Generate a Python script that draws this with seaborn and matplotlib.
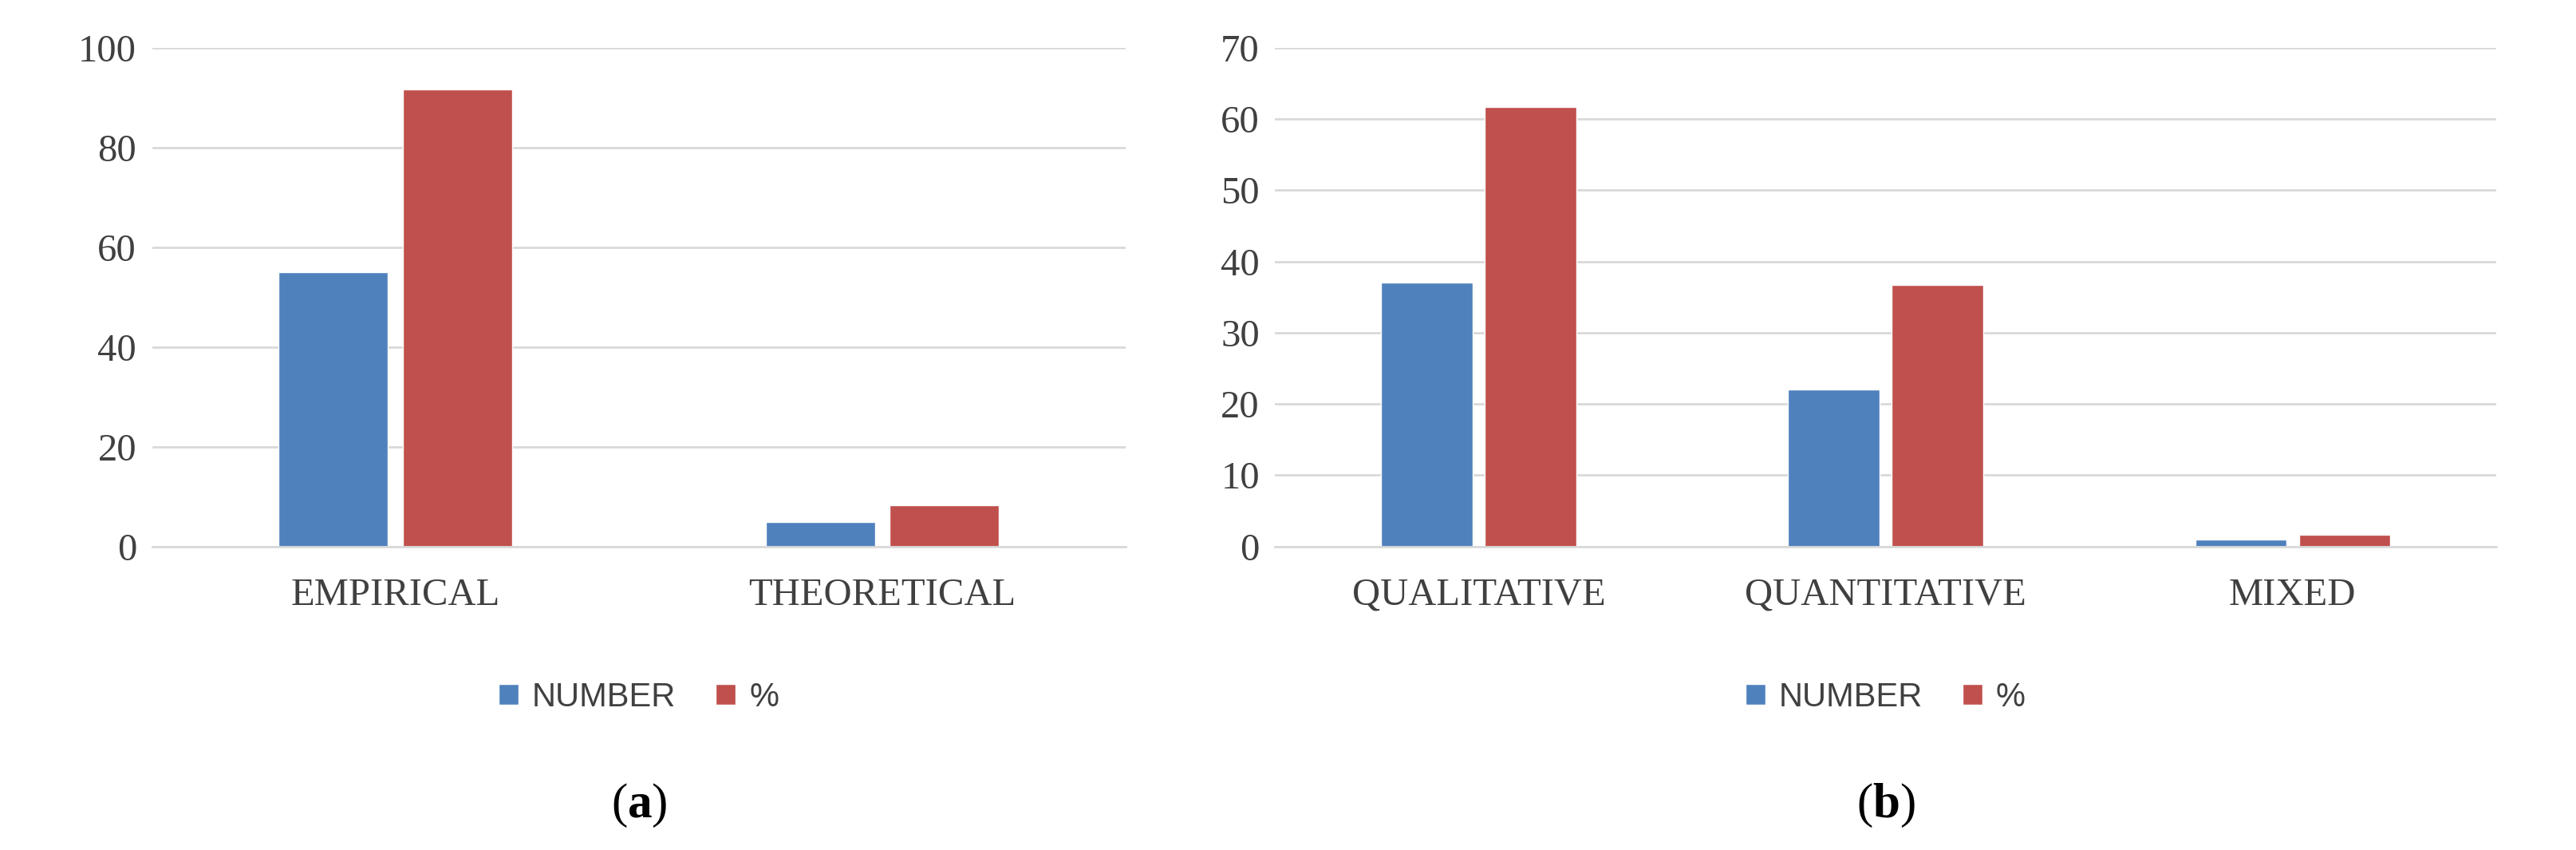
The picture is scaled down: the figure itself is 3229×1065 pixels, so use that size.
import matplotlib
matplotlib.use("Agg")
import matplotlib.pyplot as plt
import seaborn as sns
import pandas as pd

# panel (a)
cats_a = ["EMPIRICAL", "THEORETICAL"]
number_a = [55, 5]
pct_a = [91.7, 8.3]

# panel (b)
cats_b = ["QUALITATIVE", "QUANTITATIVE", "MIXED"]
number_b = [37, 22, 1]
pct_b = [61.7, 36.7, 1.7]

series = ["NUMBER", "%"]
colors = ["#4F81BD", "#C0504D"]

sns.set_style("white")
plt.rcParams["font.family"] = ["Liberation Serif", "DejaVu Serif"]
plt.rcParams["mathtext.fontset"] = "custom"
plt.rcParams["mathtext.rm"] = "Liberation Serif"
plt.rcParams["mathtext.bf"] = "Liberation Serif:bold"

fig = plt.figure(figsize=(32.29, 10.65), dpi=100)
ax_a = fig.add_axes([0.059, 0.357, 0.378, 0.587])
ax_b = fig.add_axes([0.495, 0.357, 0.474, 0.587])


def panel(ax, cats, num, pct, ymax, step, letter):
    df = pd.DataFrame({
        "cat": cats * 2,
        "val": num + pct,
        "series": [series[0]] * len(cats) + [series[1]] * len(cats),
    })
    sns.barplot(data=df, x="cat", y="val", hue="series", palette=colors,
                width=0.51, gap=0.12, ax=ax, saturation=1)
    ax.set_ylim(0, ymax)
    ax.set_yticks(range(0, ymax + 1, step))
    ax.yaxis.grid(True, color="#D9D9D9", linewidth=2)
    ax.set_axisbelow(True)
    for s in ["top", "right", "left"]:
        ax.spines[s].set_visible(False)
    ax.spines["bottom"].set_color("#D9D9D9")
    ax.spines["bottom"].set_linewidth(2)
    ax.tick_params(axis="both", length=0, labelsize=35, colors="#404040", pad=14)
    ax.tick_params(axis="x", pad=28)
    ax.set_xlabel("")
    ax.set_ylabel("")
    leg = ax.legend(loc="upper center", bbox_to_anchor=(0.5, -0.21), ncol=2,
                    frameon=False, handlelength=0.6, handleheight=0.6,
                    columnspacing=1.2, handletextpad=0.4,
                    prop={"family": "Liberation Sans", "size": 30})
    for t in leg.get_texts():
        t.set_color("#404040")
    ax.text(0.5, -0.52, "($\\mathbf{" + letter + "}$)", transform=ax.transAxes,
            ha="center", va="center", fontsize=44, color="black")


panel(ax_a, cats_a, number_a, pct_a, 100, 20, "a")
panel(ax_b, cats_b, number_b, pct_b, 70, 10, "b")

fig.savefig("out.png", dpi=100)
